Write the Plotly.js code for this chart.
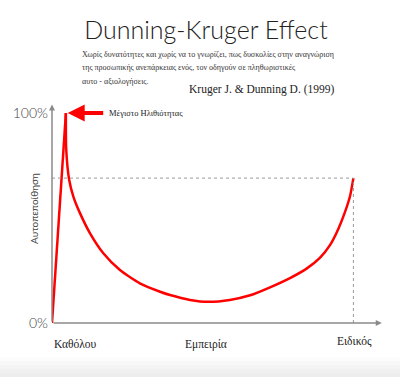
<!DOCTYPE html>
<html>
<head>
<meta charset="utf-8">
<script src="https://cdn.plot.ly/plotly-3.0.1.min.js"></script>
<style>html,body{margin:0;padding:0;background:#fff;}#chart{width:400px;height:377px;}</style>
</head>
<body>
<div id="chart"></div>
<script>
// ---- data ----
const curveX = [0, 4.6, 4.7, 5.7, 7.1, 9.3, 12.6, 17.0, 22.5, 29.1, 35.8, 39.1, 45.7, 51.8, 58.9, 65.6, 72.2, 78.8, 84.3, 88.7, 92.1, 94.8, 97.0, 98.7, 99.8];
const curveY = [0, 100, 83, 68.1, 60.1, 52.2, 42.7, 33.2, 25.2, 18.9, 14.9, 13.3, 11.0, 10.1, 11.0, 13.2, 17.0, 21.4, 25.9, 31.0, 37.2, 44.8, 52.8, 60.5, 69.0];
const xTickVals = [0, 51, 100];
const xTickText = ['Καθόλου', 'Εμπειρία', 'Ειδικός'];
const yTickVals = [0, 100];
const yTickText = ['0%', '100%'];
const titleText = 'Dunning-Kruger Effect';
const subtitleLines = [
  'Χωρίς δυνατότητες και χωρίς να το γνωρίζει, πως δυσκολίες στην αναγνώριση',
  'της προσωπικής ανεπάρκειας ενός, τον οδηγούν σε πληθωριστικές',
  'αυτο - αξιολογήσεις.'
];
const citation = 'Kruger J. & Dunning D. (1999)';
const peakLabel = 'Μέγιστο Ηλιθιότητας';
const yTitle = 'Αυτοπεποίθηση';

// ---- layout helpers ----
const W = 400, H = 377, L = 52, R = 18, T = 100, B = 54;
const pw = W - L - R, ph = H - T - B;
const px = x => (x - L) / pw;
const py = y => (H - B - y) / ph;
const serif = 'Liberation Serif, DejaVu Serif, serif';
const sans = 'Lato, Liberation Sans, sans-serif';

const endX = curveX[curveX.length - 1], endY = curveY[curveY.length - 1];
const peakIdx = curveY.indexOf(Math.max(...curveY));

const traces = [
  {x: curveX.slice(0, peakIdx + 1), y: curveY.slice(0, peakIdx + 1), mode: 'lines',
   line: {color: '#ff0000', width: 2.5}, hoverinfo: 'skip'},
  {x: curveX.slice(peakIdx), y: curveY.slice(peakIdx), mode: 'lines',
   line: {color: '#ff0000', width: 2.5, shape: 'spline', smoothing: 0.6}, hoverinfo: 'skip'}
];

const annotations = [];
subtitleLines.forEach((t, i) => {
  annotations.push({xref: 'paper', yref: 'paper', x: px(80), y: py([54, 67, 81.5][i]),
    xanchor: 'left', yanchor: 'middle', text: t, showarrow: false,
    font: {family: serif, size: 8, color: '#333'}});
});
annotations.push({xref: 'paper', yref: 'paper', x: px(336), y: py(89.5), xanchor: 'right', yanchor: 'middle',
  text: citation, showarrow: false, font: {family: serif, size: 11.5, color: '#222'}});
// axis arrows
annotations.push({x: 109.2, y: 0, ax: 0, ay: 0, axref: 'x', ayref: 'y', xref: 'x', yref: 'y', text: '',
  showarrow: true, arrowhead: 2, arrowsize: 0.8, arrowwidth: 1.5, arrowcolor: '#8a8a8a', standoff: 0});
annotations.push({x: 0, y: 104, ax: 0, ay: 0, axref: 'x', ayref: 'y', xref: 'x', yref: 'y', text: '',
  showarrow: true, arrowhead: 2, arrowsize: 0.8, arrowwidth: 1.5, arrowcolor: '#8a8a8a', standoff: 0});
// peak arrow
annotations.push({x: curveX[peakIdx] + 0.6, y: curveY[peakIdx], ax: 37, ay: 0, xref: 'x', yref: 'y', text: '',
  showarrow: true, arrowhead: 2, arrowsize: 0.85, arrowwidth: 4, arrowcolor: '#ff0000', standoff: 0});
annotations.push({x: curveX[peakIdx] + 13.6, y: curveY[peakIdx], xref: 'x', yref: 'y', xanchor: 'left', yanchor: 'middle',
  text: peakLabel, showarrow: false, font: {family: serif, size: 8.5, color: '#222'}});
// x labels
xTickText.forEach((t, i) => {
  annotations.push({x: xTickVals[i], xref: 'x', yref: 'paper', y: py(i === 2 ? 341 : 344),
    xanchor: i === 0 ? 'left' : 'center', yanchor: 'middle', text: t, showarrow: false,
    font: {family: serif, size: 11.5, color: '#222'}});
});
// y title
annotations.push({xref: 'paper', yref: 'paper', x: px(34), y: py(209), textangle: -90, xanchor: 'center', yanchor: 'middle',
  text: yTitle, showarrow: false, font: {family: sans, size: 10, color: '#444'}});

const shapes = [
  {type: 'line', xref: 'x', yref: 'y', x0: 0, x1: endX, y0: endY, y1: endY, line: {color: '#999', width: 1, dash: 'dot'}},
  {type: 'line', xref: 'x', yref: 'y', x0: endX, x1: endX, y0: 0, y1: endY, line: {color: '#999', width: 1, dash: 'dot'}}
];
// bottom gradient strip
const bands = ['#fcfcfc', '#f8f8f8', '#f4f4f4', '#f0f0f0', '#ededed'];
bands.forEach((c, i) => {
  shapes.push({type: 'rect', xref: 'paper', yref: 'paper', x0: px(0), x1: px(W), y0: py(357 + i * 4), y1: py(i === bands.length - 1 ? H : 361 + i * 4),
    fillcolor: c, line: {width: 0}, layer: 'below'});
});

const layout = {
  width: W, height: H,
  margin: {l: L, r: R, t: T, b: B},
  paper_bgcolor: '#fff', plot_bgcolor: 'rgba(0,0,0,0)',
  showlegend: false,
  title: {text: titleText, x: 206 / W, xanchor: 'center', y: 1 - 30 / H, yanchor: 'middle',
    font: {family: sans, size: 25, color: '#222', weight: 300}},
  xaxis: {range: [0, pw / 3.02], showgrid: false, zeroline: false, showline: false, showticklabels: false, ticks: '', fixedrange: true},
  yaxis: {range: [0, ph / 2.1], showgrid: false, zeroline: false, showline: false,
    tickvals: yTickVals, ticktext: yTickText, ticks: '', ticklabelstandoff: 3,
    tickfont: {family: sans, size: 14, color: '#444', weight: 300}, fixedrange: true},
  annotations: annotations,
  shapes: shapes
};

Plotly.newPlot('chart', traces, layout, {displayModeBar: false, staticPlot: true});
</script>
</body>
</html>
